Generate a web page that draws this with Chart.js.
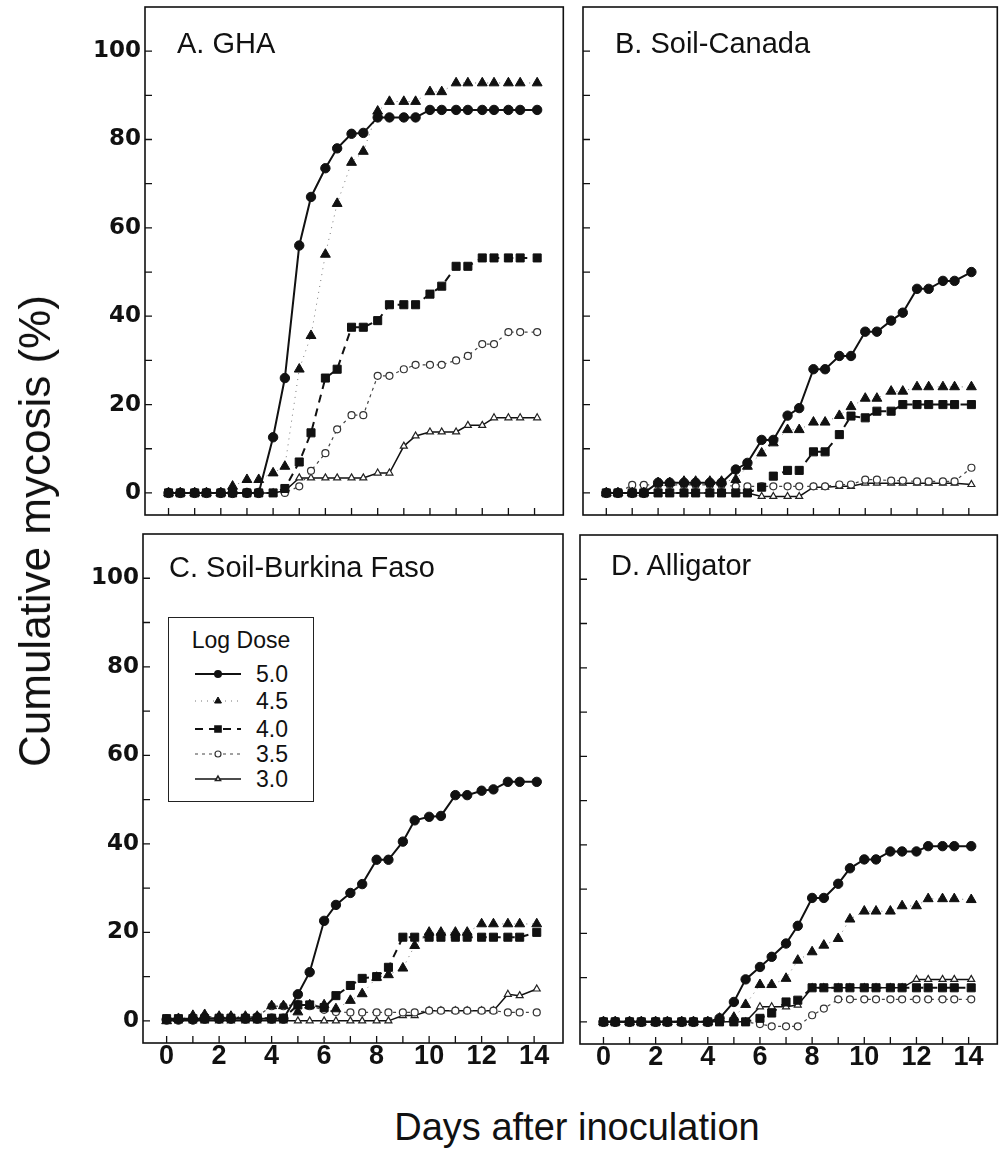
<!DOCTYPE html>
<html>
<head>
<meta charset="utf-8">
<script src="https://cdn.jsdelivr.net/npm/chart.js@4.4.1/dist/chart.umd.min.js"></script>
<style>
html,body{margin:0;padding:0;background:#fff;}
body{width:1004px;height:1161px;position:relative;overflow:hidden;font-family:"Liberation Sans",Arial,sans-serif;color:#111;}
canvas.panel{position:absolute;}
.ptitle{position:absolute;font-size:29px;line-height:1;white-space:nowrap;}
#ytitle{position:absolute;left:35px;top:531px;font-size:44px;line-height:1;white-space:nowrap;transform:translate(-50%,-50%) rotate(-90deg);}
#xtitle{position:absolute;left:577px;top:1127px;font-size:38px;line-height:1;white-space:nowrap;transform:translate(-50%,-50%);}
#legend{position:absolute;left:168px;top:617px;width:146px;height:185px;box-sizing:border-box;border:1.5px solid #222;background:#fff;}
#legend .lt{position:absolute;left:0;width:100%;top:11px;text-align:center;font-size:23px;line-height:1;}
#legend .row{position:absolute;left:0;width:100%;height:24px;}
#legend .row canvas{position:absolute;left:24px;top:0;}
#legend .row span{position:absolute;left:87px;top:1px;font-size:23px;line-height:1;}
</style>
</head>
<body>
<canvas id="cA" class="panel" width="570" height="522" style="left:0;top:0"></canvas>
<canvas id="cB" class="panel" width="434" height="522" style="left:570px;top:0"></canvas>
<canvas id="cC" class="panel" width="570" height="560" style="left:0;top:526px"></canvas>
<canvas id="cD" class="panel" width="434" height="560" style="left:570px;top:526px"></canvas>

<div class="ptitle" style="left:177px;top:29px">A. GHA</div>
<div class="ptitle" style="left:615px;top:29px">B. Soil-Canada</div>
<div class="ptitle" style="left:169px;top:553px">C. Soil-Burkina Faso</div>
<div class="ptitle" style="left:611px;top:551px">D. Alligator</div>
<div id="ytitle">Cumulative mycosis (%)</div>
<div id="xtitle">Days after inoculation</div>
<div id="legend"><div class="lt">Log Dose</div></div>

<script>
// ---- data ----
const days = [0,0.45,1,1.45,2,2.45,3,3.45,4,4.45,5,5.45,6,6.45,7,7.45,8,8.45,9,9.45,10,10.45,11,11.45,12,12.45,13,13.45,14.1];
const doseLabels = ["5.0","4.5","4.0","3.5","3.0"];
const xTickValues = [0,1,2,3,4,5,6,7,8,9,10,11,12,13,14];
const xTickLabels = [0,2,4,6,8,10,12,14];
const yTickValues = [0,10,20,30,40,50,60,70,80,90,100];
const yTickLabels = [0,20,40,60,80,100];

// A. GHA
const a50 = [0,0,0,0,0,0,0,0,12.6,26,56,67,73.5,78,81.3,81.5,85,85,85,85,86.7,86.7,86.7,86.7,86.7,86.7,86.7,86.7,86.7];
const a45 = [0,0,0,0,0,1.5,3,3,4.5,6,28,35.6,54,65.5,74.8,77.3,86.4,88.6,88.6,88.6,90.8,90.8,92.8,92.8,92.8,92.8,92.8,92.8,92.8];
const a40 = [0,0,0,0,0,0,0,0,0,1,7,13.6,26,28,37.5,37.5,39,42.6,42.6,42.6,45,46.8,51.3,51.3,53.2,53.2,53.2,53.2,53.2];
const a35 = [0,0,0,0,0,0,0,0,0,0,1.5,5,9,14.4,17.6,17.6,26.5,26.5,28,29,29,29,30,31,33.7,33.7,36.4,36.4,36.4];
const a30 = [0,0,0,0,0,0,0,0,0,0.5,3.4,3.4,3.4,3.4,3.4,3.4,4.5,4.5,10.6,12.9,13.8,13.8,13.8,15.3,15.3,17,17,17,17];

// B. Soil-Canada
const b50 = [0,0,0,0,2.3,2.3,2.3,2.3,2.3,2.3,5.3,6.8,12,12,17.5,19.2,28,28,31,31,36.5,36.5,39,40.8,46.2,46.2,48,48,50];
const b45 = [0,0,0,0,2.3,2.3,2.6,2.6,2.6,2.6,3,6,9,11.3,14.3,14.3,16,16,17.5,19.5,21.4,21.4,23,23,24,24,24,24,24];
const b40 = [0,0,0,0,0,0,0,0,0,0,0,0,1.3,3.8,5.1,5.1,9.3,9.3,13.2,17.4,17,18.5,18.5,20,20,20,20,20,20];
const b35 = [0,0,1.8,1.8,1.8,1.8,1.8,1.8,1.8,1.8,1.5,1.5,1.5,1.5,1.5,1.5,1.5,1.5,1.9,1.9,3,3,2.8,2.8,2.6,2.6,2.6,2.6,5.7];
const b30 = [0,0,0,0,0,0,0,0,0,0,0,0,-0.8,-0.8,-0.8,-0.8,1.3,1.3,1.5,1.5,2.2,2.2,2.2,2.2,2.2,2.2,2.2,2.2,1.9];

// C. Soil-Burkina Faso
const c50 = [0.3,0.3,0.3,0.5,0.5,0.5,0.5,0.5,0.5,0.5,6,11,22.6,26.2,28.9,30.9,36.4,36.4,40.5,45.3,46.1,46.3,51,51,52,52.3,54,54,54];
const c45 = [0,0.5,1.2,1.4,1,1,1,1,3.4,3.4,2,3.6,3.6,2.7,4.6,6.1,9.8,10.4,11.9,17,20,20,20,20,21.9,21.9,21.9,21.9,21.9];
const c40 = [0.5,0.5,0.5,0.5,0.6,0.6,0.6,0.6,0.6,0.6,3.6,3.6,3,5.7,8,9.6,10,12.1,18.9,18.9,18.9,18.9,18.9,18.9,18.9,18.9,18.9,18.9,20];
const c35 = [0.3,0.3,0.5,1,0.8,0.8,0.8,1,3.3,3.3,3.8,3.3,2.5,2,1.9,1.9,1.9,1.9,1.9,1.9,2.3,2.3,2.3,2.3,2.3,2.3,1.9,1.9,1.9];
const c30 = [0,0,0,0,0,0,0,0,0,0,0,0,0,0,0,0,0,0,1.2,1.2,2.3,2.3,2.3,2.3,2.3,2.3,6,5.7,7.2];

// D. Alligator
const d50 = [0,0,0,0,0,0,0,0,0,0.8,4.5,9.6,12.4,14.7,17.7,21.7,28,28,31.2,34.7,36.7,36.7,38.5,38.5,38.5,39.7,39.7,39.7,39.7];
const d45 = [0,0,0,0,0,0,0,0,0,0.8,1,3.9,8.4,8.4,9.8,13.9,15.8,17.3,18.8,23.2,25,25,25,26.2,26.2,27.8,27.8,27.8,27.6];
const d40 = [0,0,0,0,0,0,0,0,0,0,0,0,0.8,2,4.5,4.9,7.7,7.7,7.7,7.7,7.7,7.7,7.7,7.7,7.7,7.7,7.7,7.7,7.7];
const d35 = [0,0,0,0,0,0,0,0,0,0,0,0,-0.5,-1,-1,-1,1.5,3,5.1,5.1,5.1,5.1,5.1,5.1,5.1,5.1,5.1,5.1,5.1];
const d30 = [0,0,0,0,0,0,0,0,0,0,0,0,3.4,3.4,3.4,3.8,7.7,7.7,7.7,7.7,7.7,7.7,7.7,7.7,9.6,9.6,9.6,9.6,9.6];

// ---- styles ----
const INK = '#111';
const styles = [
  {borderColor:INK, borderWidth:2, pointStyle:'circle', pointRadius:4.7, pointBackgroundColor:INK, pointBorderColor:INK, pointBorderWidth:1},
  {borderColor:'#777', borderWidth:1, borderDash:[1,5], pointStyle:'triangle', pointRadius:5.7, pointBackgroundColor:INK, pointBorderColor:INK, pointBorderWidth:1},
  {borderColor:INK, borderWidth:2, borderDash:[8,6], pointStyle:'rect', pointRadius:5.7, pointBackgroundColor:INK, pointBorderColor:INK, pointBorderWidth:1},
  {borderColor:'#444', borderWidth:1.2, borderDash:[3,4], pointStyle:'circle', pointRadius:3.5, pointBackgroundColor:'#fff', pointBorderColor:'#333', pointBorderWidth:1.2},
  {borderColor:INK, borderWidth:1.5, pointStyle:'triangle', pointRadius:4, pointBackgroundColor:'#fff', pointBorderColor:'#222', pointBorderWidth:1.2}
];

const xMin = -0.9, xMax = 15.1, yMin = -5, yMax = 110;

const framePlugin = {
  id: 'frame',
  afterDraw(chart) {
    const ctx = chart.ctx, a = chart.chartArea, x = chart.scales.x, y = chart.scales.y;
    ctx.save();
    ctx.strokeStyle = INK;
    ctx.lineWidth = 1.6;
    ctx.strokeRect(a.left, a.top, a.right - a.left, a.bottom - a.top);
    ctx.lineWidth = 1.3;
    ctx.beginPath();
    yTickValues.forEach(v => { const p = y.getPixelForValue(v); ctx.moveTo(a.left, p); ctx.lineTo(a.left + 7, p); });
    xTickValues.forEach(v => { const p = x.getPixelForValue(v); ctx.moveTo(p, a.bottom); ctx.lineTo(p, a.bottom - 7); });
    ctx.stroke();
    ctx.restore();
  }
};

function zeroPad(s) { s.paddingTop = 0; s.paddingBottom = 0; s.paddingLeft = 0; s.paddingRight = 0; }

function makePanel(id, series, o) {
  return new Chart(document.getElementById(id), {
    type: 'line',
    data: {
      datasets: series.map((vals, i) => Object.assign({
        label: doseLabels[i],
        data: days.map((d, j) => ({x: d, y: vals[j]})),
        fill: false, tension: 0
      }, styles[i]))
    },
    options: {
      responsive: false, animation: false, devicePixelRatio: 1,
      layout: {padding: o.padding},
      plugins: {legend: {display: false}, tooltip: {enabled: false}, title: {display: false}},
      scales: {
        x: {
          type: 'linear', min: xMin, max: xMax,
          grid: {display: false, drawTicks: false}, border: {display: false},
          afterBuildTicks: s => { s.ticks = xTickValues.map(v => ({value: v})); },
          afterFit: s => { s.height = o.xH; zeroPad(s); },
          ticks: {
            display: o.xLabels, autoSkip: false, maxRotation: 0, minRotation: 0, padding: -3, color: INK,
            font: {family: '"Liberation Sans", Arial, sans-serif', size: 27, weight: 'bold'},
            callback: v => xTickLabels.includes(v) ? String(v) : ''
          }
        },
        y: {
          type: 'linear', min: yMin, max: yMax,
          grid: {display: false, drawTicks: false}, border: {display: false},
          afterBuildTicks: s => { s.ticks = yTickValues.map(v => ({value: v})); },
          afterFit: s => { s.width = o.yW; zeroPad(s); },
          ticks: {
            display: o.yLabels, autoSkip: false, padding: 4, color: INK,
            font: {family: '"DejaVu Sans", sans-serif', size: 23, weight: 'bold'},
            callback: v => yTickLabels.includes(v) ? String(v) : ''
          }
        }
      }
    },
    plugins: [framePlugin]
  });
}

makePanel('cA', [a50,a45,a40,a35,a30], {padding:{left:0,top:7,right:6,bottom:7}, yW:145, xH:0, xLabels:false, yLabels:true});
makePanel('cB', [b50,b45,b40,b35,b30], {padding:{left:0,top:7,right:1,bottom:7}, yW:13, xH:0, xLabels:false, yLabels:false});
makePanel('cC', [c50,c45,c40,c35,c30], {padding:{left:0,top:8,right:7,bottom:0}, yW:143, xH:43, xLabels:true, yLabels:true});
makePanel('cD', [d50,d45,d40,d35,d30], {padding:{left:0,top:9,right:1,bottom:0}, yW:10, xH:42, xLabels:true, yLabels:false});

// ---- legend (Log Dose) ----
(function buildLegend(){
  const box = document.getElementById('legend');
  const rowTops = [44, 71, 99, 124, 149];
  doseLabels.forEach((lab, i) => {
    const row = document.createElement('div');
    row.className = 'row';
    row.style.top = rowTops[i] + 'px';
    const cv = document.createElement('canvas');
    cv.width = 54; cv.height = 24;
    const sp = document.createElement('span');
    sp.textContent = lab;
    row.appendChild(cv); row.appendChild(sp); box.appendChild(row);
    const st = styles[i], ctx = cv.getContext('2d');
    ctx.strokeStyle = st.borderColor; ctx.lineWidth = st.borderWidth;
    ctx.setLineDash(st.borderDash || []);
    ctx.beginPath(); ctx.moveTo(2, 12); ctx.lineTo(48, 12); ctx.stroke();
    ctx.setLineDash([]);
    ctx.fillStyle = st.pointBackgroundColor; ctx.strokeStyle = st.pointBorderColor;
    Chart.helpers.drawPoint(ctx, {pointStyle: st.pointStyle, radius: Math.max(3, st.pointRadius - 1.7), rotation: 0, borderWidth: st.pointBorderWidth}, 25, 12);
  });
})();
</script>
</body>
</html>
